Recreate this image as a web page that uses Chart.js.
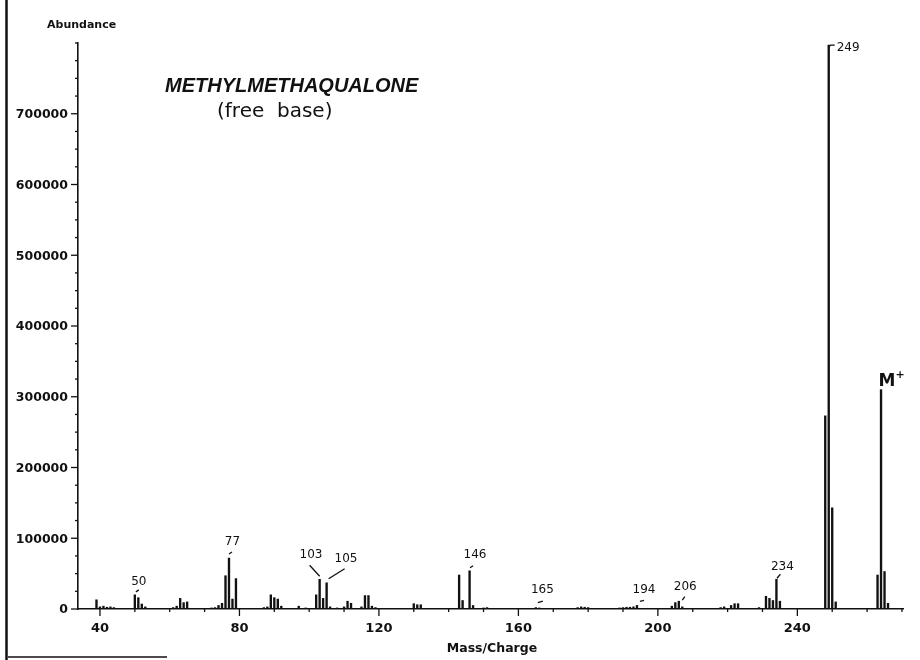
<!DOCTYPE html>
<html>
<head>
<meta charset="utf-8">
<script src="https://cdn.jsdelivr.net/npm/chart.js@4.4.0/dist/chart.umd.min.js"></script>
<style>
  html, body { margin: 0; padding: 0; background: #fff; }
  #wrap { width: 920px; height: 660px; }
</style>
</head>
<body>
<div id="wrap"><canvas id="msChart" width="920" height="660"></canvas></div>
<script>
// m/z of each line in the spectrum and its abundance
var masses = [
  39, 40, 41, 42, 43, 44, 50, 51, 52, 53, 61, 62, 63, 64, 65,
  72, 73, 74, 75, 76, 77, 78, 79, 87, 88, 89, 90, 91, 92, 97, 99,
  102, 103, 104, 105, 106, 108, 110, 111, 112, 115, 116, 117, 118, 119,
  130, 131, 132, 143, 144, 146, 147, 150, 151, 165, 166,
  177, 178, 179, 180, 189, 190, 191, 192, 193, 194,
  204, 205, 206, 207, 218, 219, 221, 222, 223,
  229, 231, 232, 233, 234, 235, 248, 249, 250, 251, 263, 264, 265, 266
];
var abundance = [
  13000, 3000, 4000, 2500, 3000, 2000, 20000, 16000, 7000, 3000, 2000, 4000, 15000, 9000, 10000,
  1500, 2000, 5000, 8000, 47000, 72000, 14000, 43000, 2000, 3000, 20000, 16000, 14000, 4000, 4000, 1500,
  20000, 42000, 15000, 37000, 3000, 1500, 3000, 11000, 8000, 3000, 19000, 19000, 4000, 2000,
  7500, 6000, 6000, 48000, 12000, 54000, 5000, 1500, 2000, 2000, 1500,
  2000, 3000, 2500, 2000, 1500, 2000, 2500, 2500, 3000, 5000,
  4000, 9000, 11000, 3000, 2000, 3000, 5000, 7500, 7500,
  2000, 18000, 15000, 12000, 42000, 11000, 273000, 797000, 143000, 10000, 48000, 310000, 53000, 8000
];

// axis ticks
var xMajorTicks = [40, 80, 120, 160, 200, 240];
var yMajorTicks = [0, 100000, 200000, 300000, 400000, 500000, 600000, 700000];

// peaks that carry a printed m/z label
var labelledPeaks = ['50', '77', '103', '105', '146', '165', '194', '206', '234', '249'];

function valueAt(m) {
  return abundance[masses.indexOf(m)];
}

var decor = {
  id: 'decor',
  afterDraw: function(chart) {
    var c = chart.ctx;
    var xs = chart.scales.x, ys = chart.scales.y;
    var y0 = ys.getPixelForValue(0);
    var xl = xs.left;

    function seg(x1, y1, x2, y2) {
      c.beginPath(); c.moveTo(x1, y1); c.lineTo(x2, y2); c.stroke();
    }

    c.save();
    c.strokeStyle = '#111';
    c.fillStyle = '#111';
    c.lineWidth = 1.3;

    // x ticks every 10, long ones at the labelled values
    for (var m = 40; m <= 270; m += 10) {
      var px = xs.getPixelForValue(m);
      var major = xMajorTicks.indexOf(m) >= 0;
      seg(px, y0, px, y0 + (major ? 7 : 3));
    }
    // y ticks every 25000
    for (var v = 0; v <= 800000; v += 25000) {
      var py = ys.getPixelForValue(v);
      var majorY = yMajorTicks.indexOf(v) >= 0;
      seg(xl - (majorY ? 7 : 3), py, xl, py);
    }

    // tick labels
    c.font = 'bold 12.5px "DejaVu Sans"';
    c.textAlign = 'right';
    c.textBaseline = 'middle';
    yMajorTicks.forEach(function(v) {
      c.fillText(String(v), 68, ys.getPixelForValue(v) + 1);
    });
    c.font = 'bold 13px "DejaVu Sans"';
    c.textAlign = 'center';
    c.textBaseline = 'alphabetic';
    xMajorTicks.forEach(function(m) {
      c.fillText(String(m), xs.getPixelForValue(m), y0 + 23);
    });

    // axis titles
    c.font = 'bold 11px "DejaVu Sans"';
    c.textAlign = 'left';
    c.fillText('Abundance', 47, 28);
    c.font = 'bold 12.5px "DejaVu Sans"';
    c.textAlign = 'center';
    c.fillText('Mass/Charge', 492, 652);

    // compound name
    c.textAlign = 'left';
    c.font = 'italic bold 20px "Liberation Sans"';
    c.fillText('METHYLMETHAQUALONE', 165, 92);
    c.font = '20px "DejaVu Sans"';
    c.fillText('(free  base)', 217, 117);

    // peak labels with their little leader marks
    var notes = {
      '50':  { dx: 4,    dy: -13,   lead: [1, -3, 4, -5] },
      '77':  { dx: 3.5,  dy: -16.5, lead: [0, -4, 3, -6] },
      '103': { dx: -8.6, dy: -24,   lead: [-10, -14, 0, -3] },
      '105': { dx: 19.4, dy: -24,   lead: [18, -14, 2, -4] },
      '146': { dx: 5.4,  dy: -16,   lead: [0.5, -3, 3.5, -5] },
      '165': { dx: 6.5,  dy: -17.6, lead: [2, -5, 7, -6.5] },
      '194': { dx: 7,    dy: -16,   lead: [3, -4, 7, -5] },
      '206': { dx: 6.5,  dy: -14,   lead: [3.5, -1, 6, -4.5] },
      '234': { dx: 6,    dy: -12,   lead: [0.5, -1, 4, -5] }
    };
    c.font = '12px "DejaVu Sans"';
    c.textAlign = 'center';
    c.textBaseline = 'middle';
    labelledPeaks.forEach(function(lbl) {
      var m = parseInt(lbl, 10);
      var px = xs.getPixelForValue(m);
      var py = ys.getPixelForValue(valueAt(m));
      var n = notes[lbl];
      if (n) {
        c.fillText(lbl, px + n.dx, py + n.dy);
        seg(px + n.lead[0], py + n.lead[1], px + n.lead[2], py + n.lead[3]);
      } else {
        // base peak: small hook to the right of the top
        c.textAlign = 'left';
        c.fillText(lbl, px + 8, py + 3);
        c.beginPath();
        c.moveTo(px, py + 2); c.lineTo(px + 2, py); c.lineTo(px + 6, py);
        c.stroke();
        c.textAlign = 'center';
      }
    });

    // molecular ion
    var mx = xs.getPixelForValue(264), my = ys.getPixelForValue(valueAt(264));
    c.font = 'bold 17px "DejaVu Sans"';
    c.textAlign = 'center';
    c.textBaseline = 'alphabetic';
    c.fillText('M', mx + 6, my - 4);
    c.font = 'bold 11px "DejaVu Sans"';
    c.fillText('+', mx + 19, my - 12);

    // edge of the scanned page
    c.lineWidth = 2.5;
    seg(6.5, 0, 6.5, 660);
    c.lineWidth = 1.5;
    seg(8, 657, 167, 657);
    c.restore();
  }
};

var ctx = document.getElementById('msChart').getContext('2d');
var chart = new Chart(ctx, {
  type: 'bar',
  data: {
    datasets: [{
      data: masses.map(function(m, i) { return { x: m, y: abundance[i] }; }),
      backgroundColor: '#111',
      borderWidth: 0,
      barThickness: 1.7
    }]
  },
  options: {
    responsive: false,
    animation: false,
    layout: { padding: { left: 78, right: 17, top: 43, bottom: 51 } },
    plugins: { legend: { display: false }, tooltip: { enabled: false } },
    scales: {
      x: {
        type: 'linear', min: 33.7, max: 270.3, offset: false,
        grid: { display: false, drawTicks: false },
        border: { display: true, color: '#111', width: 1.6 },
        ticks: { display: false }
      },
      y: {
        min: 0, max: 800000,
        grid: { display: false, drawTicks: false },
        border: { display: true, color: '#111', width: 1.6 },
        ticks: { display: false }
      }
    }
  },
  plugins: [decor]
});
</script>
</body>
</html>
